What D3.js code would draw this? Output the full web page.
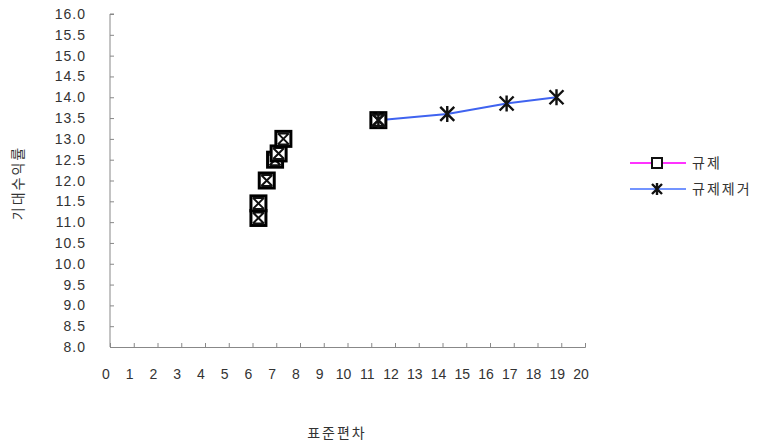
<!DOCTYPE html>
<html>
<head>
<meta charset="utf-8">
<script src="https://cdn.jsdelivr.net/npm/d3@7"></script>
<style>
  body { margin: 0; background: #fff; }
  text { font-family: "Liberation Sans", Arial, "Noto Sans CJK KR", sans-serif; fill: #333; }
</style>
</head>
<body>
<svg id="chart" width="778" height="447"></svg>
<script>
// series: 규제 (regulated) and 규제제거 (deregulated)
var regSd = [6.25, 6.25, 6.6, 6.95, 7.1, 7.3, 11.3];
var regRet = [11.1, 11.45, 12.0, 12.5, 12.65, 13.0, 13.45];
var deregSd = [11.3, 14.2, 16.7, 18.8];
var deregRet = [13.45, 13.6, 13.85, 14.0];
var xTicks = d3.range(0, 21, 1);
var yTicks = d3.range(8, 16.01, 0.5);
var seriesNames = ["규제", "규제제거"];

var svg = d3.select("#chart");
var x = d3.scaleLinear().domain([0, 20]).range([110, 585]);
var y = d3.scaleLinear().domain([8, 16]).range([347, 14]);

// axes (inside ticks, grey)
var yAxis = svg.append("g").attr("transform", "translate(110,0)")
    .call(d3.axisRight(y).tickValues(yTicks).tickSize(4).tickFormat(""));
var xAxis = svg.append("g").attr("transform", "translate(0,347)")
    .call(d3.axisTop(x).tickValues(xTicks).tickSize(4).tickFormat(""));
[yAxis, xAxis].forEach(function (a) {
    a.selectAll("path, line").attr("stroke", "#888").attr("stroke-width", 1);
});
yAxis.select("path").attr("d", "M4,14H0V347");

svg.append("g").selectAll("text").data(yTicks).enter().append("text")
    .attr("x", 86).attr("y", function (d) { return y(d); })
    .attr("dy", "0.36em").attr("text-anchor", "end")
    .attr("font-size", 14).attr("letter-spacing", 1)
    .text(function (d) { return d.toFixed(1); });

svg.append("g").selectAll("text").data(xTicks).enter().append("text")
    .attr("x", function (d) { return x(d) - 4; }).attr("y", 379)
    .attr("text-anchor", "middle").attr("font-size", 14)
    .text(function (d) { return d; });

svg.append("text").attr("x", 337).attr("y", 438).attr("text-anchor", "middle")
    .attr("font-size", 14).attr("letter-spacing", 2).text("표준편차");
svg.append("text").attr("transform", "translate(23,183) rotate(-90)")
    .attr("text-anchor", "middle").attr("font-size", 14).attr("letter-spacing", 2)
    .text("기대수익률");

// markers
function square(g, cx, cy, s, inner) {
    g.append("rect").attr("x", cx - s / 2).attr("y", cy - s / 2)
        .attr("width", s).attr("height", s)
        .attr("fill", "#fff").attr("stroke", "#000").attr("stroke-width", 3);
    if (inner) {
        var h = s / 2 - 2;
        g.append("path").attr("d", "M" + (cx - h) + "," + (cy - h) + "L" + (cx + h) + "," + (cy + h) +
            "M" + (cx + h) + "," + (cy - h) + "L" + (cx - h) + "," + (cy + h) +
            "M" + (cx - h) + "," + (cy - h) + "H" + (cx + h) + "M" + (cx - h) + "," + (cy + h) + "H" + (cx + h))
            .attr("stroke", "#111").attr("stroke-width", 2).attr("fill", "none");
    }
}
function star(g, cx, cy, r) {
    var d = "M" + (cx - r) + "," + (cy - r) + "L" + (cx + r) + "," + (cy + r) +
        "M" + (cx + r) + "," + (cy - r) + "L" + (cx - r) + "," + (cy + r) +
        "M" + cx + "," + (cy - r - 1) + "V" + (cy + r + 1);
    g.append("path").attr("d", d).attr("stroke", "#111").attr("stroke-width", 2.4).attr("fill", "none");
}

var line = d3.line().x(function (d) { return x(d[0]); }).y(function (d) { return y(d[1]); });
svg.append("path").datum(d3.zip(deregSd, deregRet)).attr("d", line)
    .attr("fill", "none").attr("stroke", "#3f63f0").attr("stroke-width", 2);

var gm = svg.append("g");
regSd.forEach(function (v, i) { square(gm, x(v), y(regRet[i]), 15, true); });
deregSd.forEach(function (v, i) { star(gm, x(v), y(deregRet[i]), 7); });

// legend
var lg = svg.append("g");
var legColors = ["#ff33ff", "#7394ff"];
seriesNames.forEach(function (n, i) {
    var ly = 163 + i * 26;
    lg.append("line").attr("x1", 630).attr("x2", 686).attr("y1", ly).attr("y2", ly)
        .attr("stroke", legColors[i]).attr("stroke-width", 2);
    if (i === 0) {
        lg.append("rect").attr("x", 652).attr("y", ly - 5).attr("width", 10).attr("height", 10)
            .attr("fill", "#fff").attr("stroke", "#111").attr("stroke-width", 2);
    } else {
        star(lg, 657, ly, 5);
    }
    lg.append("text").attr("x", 692).attr("y", ly).attr("dy", "0.36em")
        .attr("font-size", 14).attr("letter-spacing", 2).text(n);
});
</script>
</body>
</html>
